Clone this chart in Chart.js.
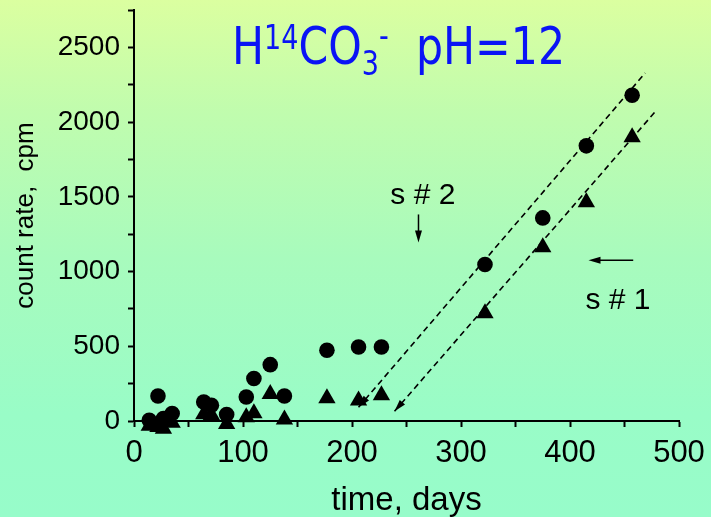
<!DOCTYPE html>
<html>
<head>
<meta charset="utf-8">
<script src="https://cdn.jsdelivr.net/npm/chart.js@4"></script>
<style>
  html, body { margin: 0; padding: 0; }
  body {
    width: 711px;
    height: 517px;
    overflow: hidden;
    background: linear-gradient(180deg, #dbffa0 0%, #c0fcae 22%, #a8fbbd 50%, #99fcc7 80%, #97fcca 100%);
  }
  canvas { display: block; }
</style>
</head>
<body>
<canvas id="chart" width="711" height="517"></canvas>
<script>
// sampling times, days
const days = [14, 22, 27, 35, 64, 71, 85, 103, 110, 125, 138, 177, 206, 227, 322, 375, 415, 457];
// count rate, cpm
const circleCounts = [5, 167, 16, 50, 127, 105, 43, 161, 284, 377, 167, 473, 495, 495, 1047, 1359, 1841, 2180];
const triangleCounts = [-32, -40, -52, -12, 45, 40, -20, 25, 52, 180, 10, 152, 138, 172, 721, 1162, 1464, 1899];

// dashed trend lines (lower end first, arrow drawn there)
const trendCircleX = [206, 469];
const trendCircleY = [92, 2329];
const trendTriangleX = [239, 478];
const trendTriangleY = [65, 2068];

const xTicks = [0, 100, 200, 300, 400, 500];
const yTicks = [0, 500, 1000, 1500, 2000, 2500];

const noteLabels = ["s # 2", "s # 1"];

// annotation placement in data units
const notes = [
  { label: noteLabels[0], at: [265, 1510], from: [261, 1382], to: [261, 1195] },
  { label: noteLabels[1], at: [444, 806], from: [458, 1075], to: [417, 1075] },
];

const FONT = "'Liberation Sans', Arial, sans-serif";

function toPoints(xs, ys) {
  return xs.map((x, i) => ({ x: x, y: ys[i] }));
}

function arrowHead(ctx, x1, y1, x2, y2, len, half) {
  // tip at (x2, y2), coming from (x1, y1)
  const a = Math.atan2(y2 - y1, x2 - x1);
  ctx.beginPath();
  ctx.moveTo(x2, y2);
  ctx.lineTo(x2 - len * Math.cos(a) + half * Math.sin(a), y2 - len * Math.sin(a) - half * Math.cos(a));
  ctx.lineTo(x2 - len * Math.cos(a) - half * Math.sin(a), y2 - len * Math.sin(a) + half * Math.cos(a));
  ctx.closePath();
  ctx.fill();
}

const extras = {
  id: "extras",
  afterDatasetsDraw(chart) {
    const ctx = chart.ctx;
    const xs = chart.scales.x;
    const ys = chart.scales.y;
    ctx.save();
    ctx.fillStyle = "#000";
    ctx.strokeStyle = "#000";

    // arrow heads on the lower ends of the dashed lines
    chart.data.datasets.forEach((ds) => {
      if (!ds.arrow) return;
      const p0 = ds.data[0];
      const p1 = ds.data[1];
      arrowHead(ctx, xs.getPixelForValue(p1.x), ys.getPixelForValue(p1.y),
        xs.getPixelForValue(p0.x), ys.getPixelForValue(p0.y), 12, 3.5);
    });

    // notes
    ctx.font = "30px " + FONT;
    ctx.textAlign = "center";
    ctx.textBaseline = "middle";
    notes.forEach((n) => {
      ctx.fillText(n.label, xs.getPixelForValue(n.at[0]), ys.getPixelForValue(n.at[1]));
      const x1 = xs.getPixelForValue(n.from[0]);
      const y1 = ys.getPixelForValue(n.from[1]);
      const x2 = xs.getPixelForValue(n.to[0]);
      const y2 = ys.getPixelForValue(n.to[1]);
      ctx.lineWidth = 1.5;
      ctx.beginPath();
      ctx.moveTo(x1, y1);
      ctx.lineTo(x2 - (x2 - x1) * 0.2, y2 - (y2 - y1) * 0.2);
      ctx.stroke();
      arrowHead(ctx, x1, y1, x2, y2, 12, 3.5);
    });
    ctx.restore();
  },
  afterDraw(chart) {
    // title H14CO3-  pH=12
    const ctx = chart.ctx;
    const fam = "'DejaVu Sans Condensed', 'DejaVu Sans', sans-serif";
    const parts = [
      { text: "H", size: 52, rise: 0 },
      { text: "14", size: 33, rise: 15 },
      { text: "CO", size: 52, rise: 0 },
      { text: "3", size: 33, rise: -11 },
      { text: "-", size: 33, rise: 17 },
      { text: "  pH=12", size: 52, rise: 0 },
    ];
    ctx.save();
    let total = 0;
    parts.forEach((p) => {
      ctx.font = p.size + "px " + fam;
      p.w = ctx.measureText(p.text).width;
      total += p.w;
    });
    const left = 232;
    const width = 333;
    const baseline = 64;
    ctx.translate(left, baseline);
    ctx.scale(width / total, 1);
    ctx.fillStyle = "#0a14f5";
    ctx.textBaseline = "alphabetic";
    ctx.textAlign = "left";
    let x = 0;
    parts.forEach((p) => {
      ctx.font = p.size + "px " + fam;
      ctx.fillText(p.text, x, -p.rise);
      x += p.w;
    });
    ctx.restore();
  },
};

new Chart(document.getElementById("chart"), {
  type: "scatter",
  data: {
    datasets: [
      {
        label: "trend circles",
        type: "line",
        data: toPoints(trendCircleX, trendCircleY),
        borderColor: "#000",
        borderWidth: 1.6,
        borderDash: [6, 4],
        pointRadius: 0,
        fill: false,
        arrow: true,
      },
      {
        label: "trend triangles",
        type: "line",
        data: toPoints(trendTriangleX, trendTriangleY),
        borderColor: "#000",
        borderWidth: 1.6,
        borderDash: [6, 4],
        pointRadius: 0,
        fill: false,
        arrow: true,
      },
      {
        label: "circles",
        data: toPoints(days, circleCounts),
        pointStyle: "circle",
        pointRadius: 7.8,
        backgroundColor: "#000",
        borderColor: "#000",
        borderWidth: 0,
        clip: false,
      },
      {
        label: "triangles",
        data: toPoints(days, triangleCounts),
        pointStyle: "triangle",
        pointRadius: 10,
        backgroundColor: "#000",
        borderColor: "#000",
        borderWidth: 0,
        clip: false,
      },
    ],
  },
  options: {
    responsive: false,
    animation: false,
    layout: { padding: { top: 9, right: 32, left: 0, bottom: 0 } },
    plugins: {
      legend: { display: false },
      tooltip: { enabled: false },
    },
    scales: {
      x: {
        type: "linear",
        min: 0,
        max: 500,
        afterFit: (s) => {
          s.height = 96;
          s.paddingLeft = 0;
          s.paddingRight = 0;
        },
        afterBuildTicks: (s) => {
          const t = [];
          for (let v = 0; v <= 500; v += 50) t.push({ value: v });
          s.ticks = t;
        },
        ticks: {
          autoSkip: false,
          maxRotation: 0,
          padding: 8,
          color: "#000",
          font: { family: FONT, size: 31 },
          callback: (v) => (xTicks.includes(v) ? v : ""),
        },
        grid: {
          drawOnChartArea: false,
          drawTicks: true,
          tickLength: 6,
          tickWidth: 2,
          tickColor: "#000",
        },
        border: { color: "#000", width: 2 },
        title: {
          display: true,
          text: "time, days",
          color: "#000",
          font: { family: FONT, size: 33, lineHeight: 1 },
          padding: { top: 0, bottom: 0 },
        },
      },
      y: {
        min: 0,
        max: 2750,
        afterFit: (s) => {
          s.width = 134;
          s.paddingTop = 0;
          s.paddingBottom = 0;
        },
        afterBuildTicks: (s) => {
          const t = [];
          for (let v = 0; v <= 2750; v += 250) t.push({ value: v });
          s.ticks = t;
        },
        ticks: {
          autoSkip: false,
          padding: 8,
          color: "#000",
          font: { family: FONT, size: 28 },
          callback: (v) => (yTicks.includes(v) ? v : ""),
        },
        grid: {
          drawOnChartArea: false,
          drawTicks: true,
          tickLength: 6,
          tickWidth: 2,
          tickColor: "#000",
        },
        border: { color: "#000", width: 2 },
        title: {
          display: true,
          text: "count rate,  cpm",
          color: "#000",
          font: { family: FONT, size: 26, lineHeight: 1 },
          padding: { top: 13, bottom: 0 },
        },
      },
    },
  },
  plugins: [extras],
});
</script>
</body>
</html>
